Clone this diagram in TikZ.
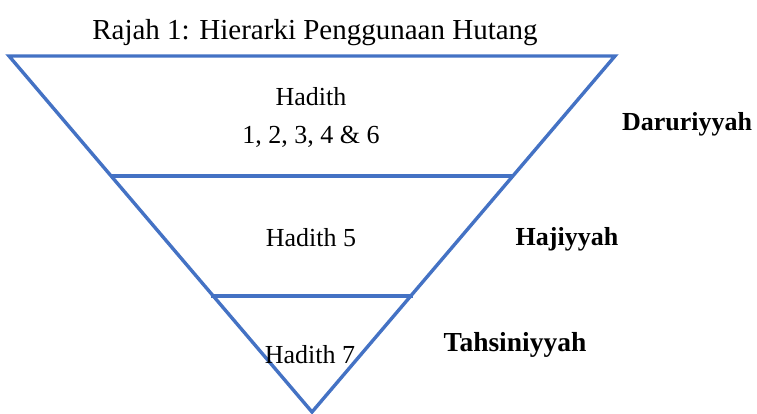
\documentclass[tikz,border=0pt]{standalone}
\usepackage{fontspec}
\setmainfont{Liberation Serif}
\definecolor{lineblue}{HTML}{4472C4}
\begin{document}
\begin{tikzpicture}[x=1pt,y=-1pt,
  edge/.style={draw=lineblue,line width=3.4pt,line join=miter},
  tier/.style={draw=lineblue,line width=3.4pt},
  txt/.style={anchor=base,inner sep=0pt,font=\fontsize{26}{30}\selectfont},
  lbl/.style={anchor=base,inner sep=0pt,font=\fontsize{26}{30}\selectfont\bfseries},
  ttl/.style={anchor=base,inner sep=0pt,font=\fontsize{29}{34}\selectfont}]
\useasboundingbox (0,0) rectangle (757,413);
\coordinate (tl) at (9,56);
\coordinate (tr) at (615,56);
\coordinate (bt) at (312,412);
\coordinate (l1) at (111,176);
\coordinate (r1) at (513,176);
\coordinate (l2) at (211,296);
\coordinate (r2) at (413,296);
\draw[edge] (tl) -- (tr) -- (bt) -- cycle;
\draw[tier] (l1) -- (r1);
\draw[tier] (l2) -- (r2);
\node[ttl] (title) at (315,39) {Rajah 1: Hierarki Penggunaan Hutang};
\node[txt] (h1) at (311,105) {Hadith};
\node[txt] (h1b) at (311,143) {1, 2, 3, 4 \& 6};
\node[txt] (h5) at (311,246) {Hadith 5};
\node[txt] (h7) at (310,363) {Hadith 7};
\node[lbl] (dar) at (687,130) {Daruriyyah};
\node[lbl] (haj) at (567,245) {Hajiyyah};
\node[lbl,font=\fontsize{27.5}{32}\selectfont\bfseries] (tah) at (515,351) {Tahsiniyyah};
\end{tikzpicture}
\end{document}
